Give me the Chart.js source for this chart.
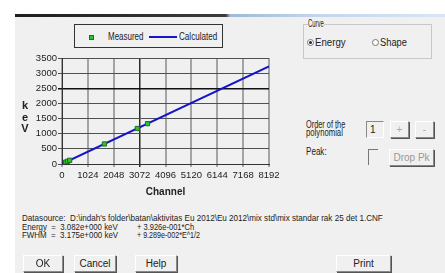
<!DOCTYPE html>
<html>
<head>
<meta charset="utf-8">
<script src="https://cdn.jsdelivr.net/npm/chart.js@4/dist/chart.umd.min.js"></script>
<style>
body { margin: 0; width: 445px; height: 273px; background: #fff; overflow: hidden; position: relative;
       font-family: 'Liberation Sans', Arial, sans-serif; font-size: 10px; line-height: 10px; color: #222; }
.abs { position: absolute; white-space: nowrap; }
.fit { transform-origin: 0 50%; }
#dialog { left: 15px; top: 14px; width: 430px; height: 259px; background: #f0f0f0; }
#band { left: 15px; top: 14px; width: 430px; height: 3px;
        background: linear-gradient(to right, #1e1e1e 0%, #3c3c3c 49%, #9fb9d6 50%, #c2d6ec 70%, #d8e6f4 100%); }
#chartBox { left: 15px; top: 50px; width: 275px; height: 150px; }
#legend { left: 74px; top: 24px; width: 147px; height: 22px; border: 1px solid #333; }
.btn { border: 1px solid; border-color: #fff #888 #888 #fff; box-shadow: 1px 1px 0 #555; background: #f0f0f0;
       text-align: center; box-sizing: border-box; line-height: 15px; }
.sunk { border: 1px solid; border-color: #888 #fff #fff #888; box-sizing: border-box; }
.radio { width: 7px; height: 7px; border-radius: 50%; border: 1px solid #777; background: #fff; box-sizing: border-box; }
.small { font-size: 9.5px; line-height: 9.5px; }
</style>
</head>
<body>
<div id="dialog" class="abs"></div>
<div id="band" class="abs"></div>

<!-- legend -->
<div id="legend" class="abs"></div>
<div class="abs" style="left:89px;top:35px;width:5px;height:5px;background:#30c030;border:1px solid #207020;box-sizing:border-box;"></div>
<div class="abs fit" data-w="35" style="left:108px;top:32px;">Measured</div>
<div class="abs" style="left:149px;top:36px;width:28px;height:2px;background:#1414c8;"></div>
<div class="abs fit" data-w="38" style="left:179px;top:32px;">Calculated</div>

<div id="chartBox" class="abs"><canvas id="fitChart"></canvas></div>
<div class="abs" style="left:21px;top:100px;font-weight:bold;font-size:11px;line-height:11.5px;text-align:center;width:8px;">k<br>e<br>V</div>

<!-- right panel -->
<div class="abs sunk" style="left:303px;top:24px;width:129px;height:35px;border-color:#c8c8c8;"></div>
<div class="abs fit" data-w="16" style="left:308px;top:19px;background:#f0f0f0;">Curve</div>
<div class="abs radio" style="left:307px;top:39px;"><div style="width:3px;height:3px;background:#222;border-radius:50%;margin:1px;"></div></div>
<div class="abs fit" data-w="31" style="left:315px;top:38px;">Energy</div>
<div class="abs radio" style="left:372px;top:39px;"></div>
<div class="abs fit" data-w="27" style="left:380px;top:38px;">Shape</div>

<div class="abs fit" data-w="39" style="left:306px;top:120px;">Order of the</div>
<div class="abs fit" data-w="37" style="left:306px;top:128px;">polynomial</div>
<div class="abs sunk" style="left:366px;top:121px;width:18px;height:17px;padding:3px 3px;">1</div>
<div class="abs btn" style="left:390px;top:121px;width:19px;height:17px;color:#aaa;">+</div>
<div class="abs btn" style="left:415px;top:121px;width:19px;height:17px;color:#aaa;">-</div>
<div class="abs fit" data-w="21" style="left:306px;top:147px;">Peak:</div>
<div class="abs" style="left:368px;top:149px;width:10px;height:16px;border-top:1px solid #777;border-left:1px solid #777;box-sizing:border-box;"></div>
<div class="abs btn" style="left:389px;top:149px;width:45px;height:17px;color:#999;">Drop Pk</div>

<!-- bottom text -->
<div class="abs fit small" data-w="361" style="left:22px;top:213px;">Datasource:&nbsp; D:\indah's folder\batan\aktivitas Eu 2012\Eu 2012\mix std\mix standar rak 25 det 1.CNF</div>
<div class="abs fit small" data-w="96" style="left:22px;top:222px;">Energy&nbsp; =&nbsp; 3.082e+000 keV</div>
<div class="abs fit small" data-w="57" style="left:137px;top:222px;">+ 3.926e-001*Ch</div>
<div class="abs fit small" data-w="96" style="left:22px;top:230px;">FWHM&nbsp; =&nbsp; 3.175e+000 keV</div>
<div class="abs fit small" data-w="63" style="left:137px;top:230px;">+ 9.289e-002*E^1/2</div>

<div class="abs btn" style="left:23px;top:255px;width:40px;height:17px;">OK</div>
<div class="abs btn" style="left:74px;top:255px;width:42px;height:17px;">Cancel</div>
<div class="abs btn" style="left:135px;top:255px;width:42px;height:17px;">Help</div>
<div class="abs btn" style="left:336px;top:255px;width:55px;height:17px;">Print</div>

<script>
// tick labels
const xTicks = [0, 1024, 2048, 3072, 4096, 5120, 6144, 7168, 8192];
const yTicks = [0, 500, 1000, 1500, 2000, 2500, 3000, 3500];

// measured peaks (channel, keV)
const measuredCh = [144, 216, 303, 1678, 2980, 3385];
const measuredKeV = [59.5, 88, 122, 662, 1173, 1332];

// calculated line end points (channel, keV)
const calcCh = [0, 8192];
const calcKeV = [3.1, 3219];

const crossX = 3072;
const crossY = 2500;

// squeeze the dialog texts to the narrow widths of the screenshot
document.querySelectorAll('.fit').forEach(el => {
    const w = parseFloat(el.dataset.w);
    el.style.transform = 'scaleX(' + (w / el.scrollWidth) + ')';
});

const font = { family: "'Liberation Sans', Arial, sans-serif", size: 9.5 };

function pts(xs, ys) {
    return xs.map((x, i) => ({ x: x, y: ys[i] }));
}

const ctx = document.getElementById('fitChart').getContext('2d');
new Chart(ctx, {
    type: 'scatter',
    data: {
        datasets: [{
            label: 'Measured',
            data: pts(measuredCh, measuredKeV),
            pointStyle: 'rect',
            pointRadius: 3,
            backgroundColor: '#30c030',
            borderColor: '#1f6f1f',
            borderWidth: 1
        }, {
            label: 'Calculated',
            data: pts(calcCh, calcKeV),
            showLine: true,
            pointRadius: 0,
            borderColor: '#1414c8',
            borderWidth: 2
        }]
    },
    options: {
        responsive: true,
        maintainAspectRatio: false,
        animation: false,
        layout: { padding: { top: 8, right: 21, left: 0, bottom: 0 } },
        plugins: { legend: { display: false }, tooltip: { enabled: false } },
        scales: {
            x: {
                min: 0, max: 8192,
                afterBuildTicks: s => { s.ticks = xTicks.map(v => ({ value: v })); },
                afterFit: s => { s.height = 36; },
                ticks: { font: font, color: '#222', padding: 3, maxRotation: 0, autoSkip: false,
                         callback: v => String(v) },
                grid: {
                    color: c => c.tick && c.tick.value === crossX ? '#2a2a2a' : '#a4a4a4',
                    lineWidth: c => c.tick && c.tick.value === crossX ? 1.5 : 2,
                    tickLength: 3
                },
                border: { color: '#333', width: 1 },
                title: { display: true, text: 'Channel', color: '#222', padding: { top: 0, bottom: 2 },
                         font: { family: font.family, size: 10, weight: 'bold' } }
            },
            y: {
                min: 0, max: 3500,
                afterBuildTicks: s => { s.ticks = yTicks.map(v => ({ value: v })); },
                afterFit: s => { s.width = 47; },
                ticks: { font: font, color: '#222', padding: 1, callback: v => String(v) },
                grid: {
                    color: c => c.tick && c.tick.value === crossY ? '#111' : '#505050',
                    lineWidth: c => c.tick && c.tick.value === crossY ? 1.5 : 1,
                    tickLength: 4
                },
                border: { color: '#333', width: 1 }
            }
        }
    }
});
</script>
</body>
</html>
